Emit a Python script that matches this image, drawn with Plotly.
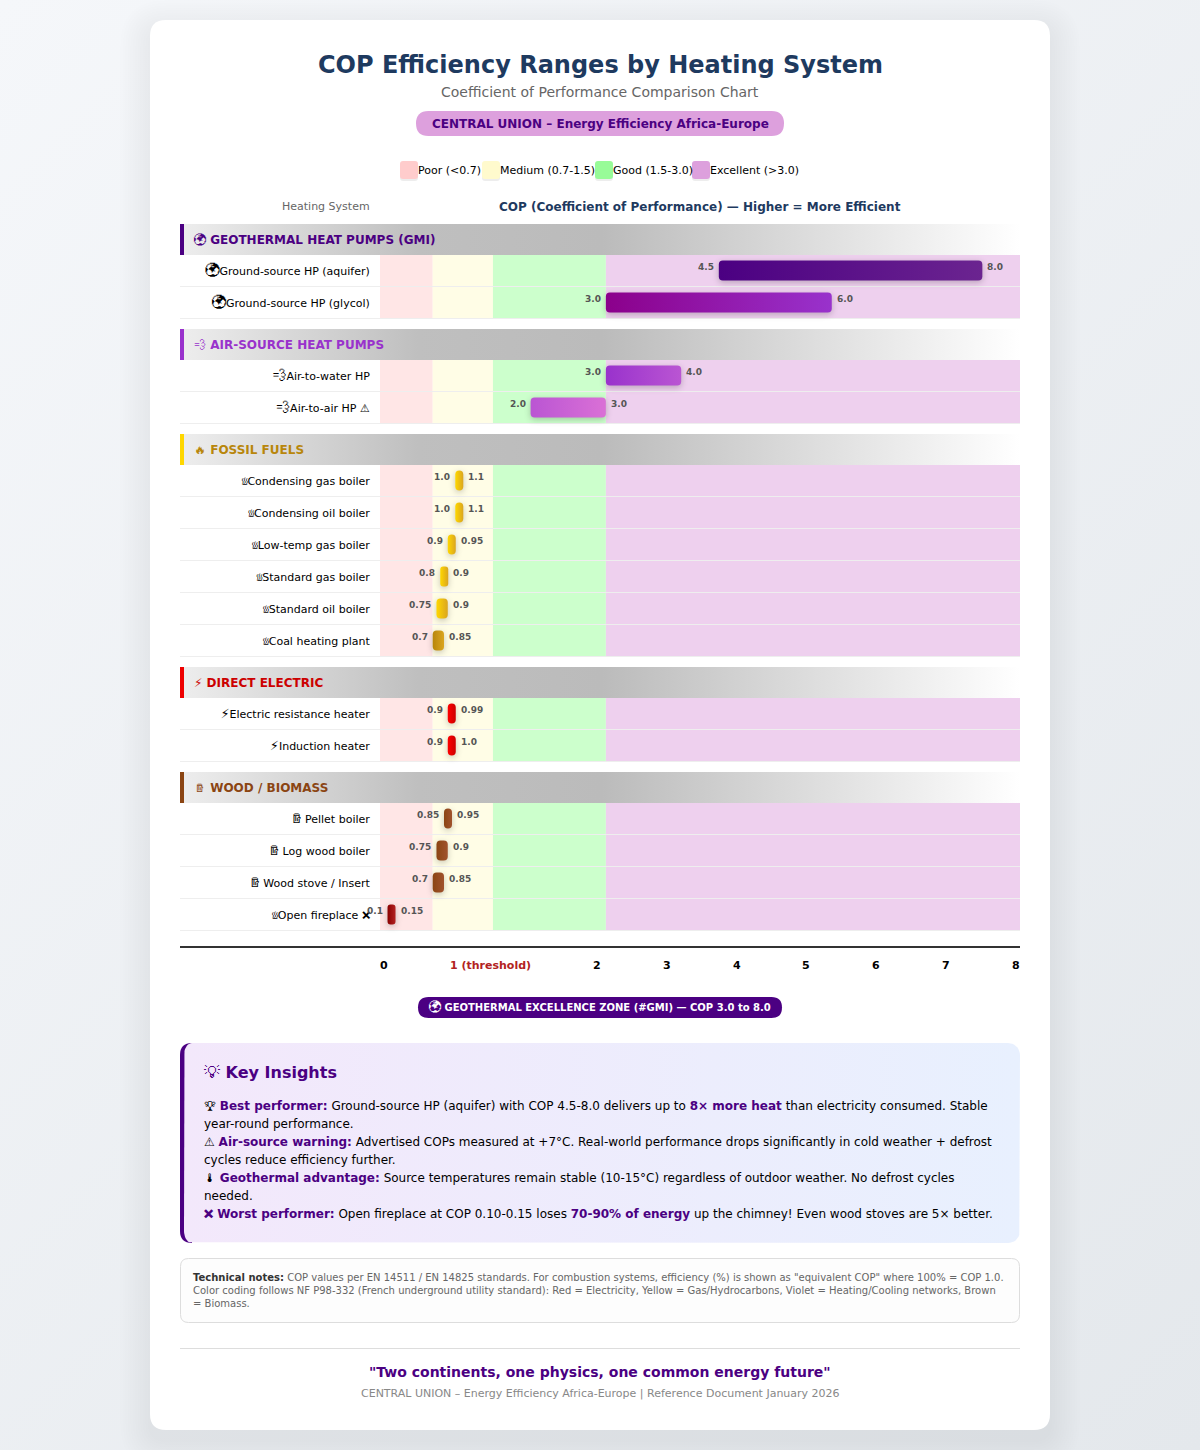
import json
import math
import plotly.graph_objects as go

# ---------- data ----------
group_names = ["🌍 GEOTHERMAL HEAT PUMPS (GMI)", "💨 AIR-SOURCE HEAT PUMPS", "🔥 FOSSIL FUELS", "⚡ DIRECT ELECTRIC", "🪵 WOOD / BIOMASS"]
group_colors = ["#4B0082", "#9932CC", "#B8860B", "#CC0000", "#8B4513"]
group_accents = ["#4B0082", "#9932CC", "#FFD700", "#EE0000", "#8B4513"]
group_bars = ["#4B0082", "#9932CC", "#FFD700", "#FF0000", "#8B4513"]

systems = [
    ["🌍Ground-source HP (aquifer)", "🌍Ground-source HP (glycol)"],
    ["💨Air-to-water HP", "💨Air-to-air HP ⚠"],
    ["♨Condensing gas boiler", "♨Condensing oil boiler", "♨Low-temp gas boiler", "♨Standard gas boiler", "♨Standard oil boiler", "♨Coal heating plant"],
    ["⚡Electric resistance heater", "⚡Induction heater"],
    ["🪵\u200APellet boiler", "🪵\u200ALog wood boiler", "🪵\u200AWood stove / Insert", "♨Open fireplace ❌"],
]
cop_low = [[4.5, 3.0], [3.0, 2.0], [1.0, 1.0, 0.9, 0.8, 0.75, 0.7], [0.9, 0.9], [0.85, 0.75, 0.7, 0.1]]
cop_high = [[8.0, 6.0], [4.0, 3.0], [1.1, 1.1, 0.95, 0.9, 0.9, 0.85], [0.99, 1.0], [0.95, 0.9, 0.85, 0.15]]
low_labels = [["4.5", "3.0"], ["3.0", "2.0"], ["1.0", "1.0", "0.9", "0.8", "0.75", "0.7"], ["0.9", "0.9"], ["0.85", "0.75", "0.7", "0.1"]]
high_labels = [["8.0", "6.0"], ["4.0", "3.0"], ["1.1", "1.1", "0.95", "0.9", "0.9", "0.85"], ["0.99", "1.0"], ["0.95", "0.9", "0.85", "0.15"]]
bar_start = [["#4B0082", "#8B008B"], ["#9932CC", "#BA55D3"], ["#FFD700", "#FFD700", "#FFD700", "#FFD700", "#FFD700", "#B8860B"], ["#FF0000", "#FF0000"], ["#8B4513", "#8B4513", "#8B4513", "#8B0000"]]
bar_end = [["#6B2490", "#9932CC"], ["#BA55D3", "#DA70D6"], ["#DAA520", "#DAA520", "#DAA520", "#DAA520", "#DAA520", "#DAA520"], ["#CC0000", "#CC0000"], ["#A0522D", "#A0522D", "#A0522D", "#B22222"]]

zone_limits = [0, 0.7, 1.5, 3.0, 8.5]
zone_colors = ["#FFE6E6", "#FFFDE6", "#CCFFCC", "#EED0EE"]
legend_labels = ["Poor (<0.7)", "Medium (0.7-1.5)", "Good (1.5-3.0)", "Excellent (>3.0)"]
legend_colors = ["#FFCCCC", "#FFFACD", "#98FB98", "#DDA0DD"]
axis_labels = ["0", "1 (threshold)", "2", "3", "4", "5", "6", "7", "8"]

insight_lines = [
    "🏆 <b style='color:#4B0082'>Best performer:</b> Ground-source HP (aquifer) with COP 4.5-8.0 delivers up to <b style='color:#4B0082'>8× more heat</b> than electricity consumed. Stable",
    "year-round performance.",
    "⚠ <b style='color:#4B0082'>Air-source warning:</b> Advertised COPs measured at +7°C. Real-world performance drops significantly in cold weather + defrost",
    "cycles reduce efficiency further.",
    "🌡 <b style='color:#4B0082'>Geothermal advantage:</b> Source temperatures remain stable (10-15°C) regardless of outdoor weather. No defrost cycles",
    "needed.",
    "<b style='color:#4B0082'>❌ Worst performer:</b> Open fireplace at COP 0.10-0.15 loses <b style='color:#4B0082'>70-90% of energy</b> up the chimney! Even wood stoves are 5× better.",
]
note_lines = [
    "<b style='color:#333'>Technical notes:</b> COP values per EN 14511 / EN 14825 standards. For combustion systems, efficiency (%) is shown as \"equivalent COP\" where 100% = COP 1.0.",
    "Color coding follows NF P98-332 (French underground utility standard): Red = Electricity, Yellow = Gas/Hydrocarbons, Violet = Heating/Cooling networks, Brown",
    "= Biomass.",
]

# ---------- layout constants ----------
W, H = 1200, 1450
PLOT_L, PLOT_R = 380, 1020
FONT = "DejaVu Sans, Unifont Upper"
ROW_ICON = {"🌍": 14, "💨": 14, "🪵": 14, "♨": 11, "⚡": 13, "⚠": 11, "❌": 11}
shapes, annotations, traces = [], [], []


def mono(s, icon=None):
    """Text (monochrome) presentation of pictographs, with their own size and regular weight."""
    icon = icon or {}
    out = ""
    for c in s:
        if c in "🌍💨🔥⚡🪵⚠❌🏆🌡💡♨":
            style = f"font-size:{icon[c]}px;" if c in icon else ""
            if c == "♨":
                style += "font-family:Unifont;"
            if c != "❌":
                style += "font-weight:normal"
            out += f"<span style='{style}'>{c}\uFE0E</span>"
        else:
            out += c
    return out


def rr(x0, y0, x1, y1, r):
    return (f"M{x0+r},{y0} L{x1-r},{y0} Q{x1},{y0} {x1},{y0+r} L{x1},{y1-r} Q{x1},{y1} {x1-r},{y1} "
            f"L{x0+r},{y1} Q{x0},{y1} {x0},{y1-r} L{x0},{y0+r} Q{x0},{y0} {x0+r},{y0} Z")


def box(x0, y0, x1, y1, r=0, fill="white", line=None, lw=0):
    shapes.append(dict(type="path", path=rr(x0, y0, x1, y1, r), xref="x", yref="y", fillcolor=fill,
                       line=dict(color=line or "rgba(0,0,0,0)", width=lw), layer="below"))


def txt(x, y, s, size, color="#000", anchor="left", bold=False, xref="x", xshift=0, icon=None):
    s = mono(s, icon)
    annotations.append(dict(x=x, y=y, xref=xref, yref="y", text=f"<b>{s}</b>" if bold else s, showarrow=False,
                            xanchor=anchor, yanchor="middle", xshift=xshift, borderpad=0, borderwidth=0,
                            align=anchor, font=dict(family=FONT, size=size, color=color)))


# card + shadow
for k in range(12):
    e = 30 - k * 2.5
    box(150 - e, 20 + 10 - e, 1050 + e, 1430 + 10 + e, 16 + e, fill="rgba(0,0,0,0.003)")
box(150, 20, 1050, 1430, 16, fill="#FFFFFF")

# heading
txt(600, 65, "COP Efficiency Ranges by Heating System", 24, "#1E3A5F", "center", True)
txt(600, 92, "Coefficient of Performance Comparison Chart", 14, "#666666", "center")
box(416, 111, 784, 136, 12.5, fill="#DDA0DD")
txt(600, 123.5, "CENTRAL UNION – Energy Efficiency Africa-Europe", 12, "#4B0082", "center", True)

# legend
for sx, tx, lab, col in zip([400, 482, 595, 692], [418, 500, 613, 710], legend_labels, legend_colors):
    box(sx, 162, sx + 18, 181, 3, fill="rgba(0,0,0,0.07)")
    box(sx, 161, sx + 18, 179, 3, fill=col)
    txt(tx, 170, lab, 11, "#000000")

txt(370, 206, "Heating System", 11, "#666666", "right")
txt(700, 207, "COP (Coefficient of Performance) — Higher = More Efficient", 12, "#1E3A5F", "center", True)

# rows: every vertical position comes from walking the groups
HEADER_H, ROW_H, GAP, BAR_H = 31, 32, 10, 20
y = 224
px_per_cop = (PLOT_R - PLOT_L) / zone_limits[-1]
MIN_W = 8 / px_per_cop
tickvals, ticktext, grads = [], [], []
for gi, name in enumerate(group_names):
    traces.append(go.Scatter(x=[184, 1020, 1020, 184, 184], y=[y, y, y + HEADER_H, y + HEADER_H, y], mode="lines",
                             line=dict(width=0), fill="toself", hoverinfo="skip", showlegend=False,
                             fillgradient=dict(type="horizontal", colorscale=[[0, "#EDEDED"], [0.28, "#BFBFBF"], [0.5, "#BBBBBB"], [1, "#FFFFFF"]]),
                             xaxis="x", yaxis="y"))
    box(180, y, 184, y + HEADER_H, 0, fill=group_accents[gi])
    txt(194, y + 15.5, name, 12, group_colors[gi], "left", True)
    y += HEADER_H
    ys, bases, widths = [], [], []
    for ri, sys_name in enumerate(systems[gi]):
        cy = y + 15.5
        lo, hi = cop_low[gi][ri], cop_high[gi][ri]
        for z in range(4):
            shapes.append(dict(type="rect", xref="x2", yref="y", x0=zone_limits[z], x1=zone_limits[z + 1],
                               y0=y, y1=y + 31, fillcolor=zone_colors[z], line=dict(width=0), layer="below"))
        box(180, y + 31, 1020, y + 32, 0, fill="#EEEEEE")
        tickvals.append(cy + 1)
        ticktext.append(mono(sys_name, ROW_ICON))
        w = max(hi - lo, MIN_W)
        ys.append(cy); bases.append(lo); widths.append(w)
        grads.append([bar_start[gi][ri], bar_end[gi][ri]])
        txt(lo, y + 12, low_labels[gi][ri], 9, "#555555", "right", True, xref="x2", xshift=-5)
        txt(lo + w, y + 12, high_labels[gi][ri], 9, "#555555", "left", True, xref="x2", xshift=5)
        y += ROW_H
    traces.append(go.Bar(x=widths, y=ys, base=bases, orientation="h", width=BAR_H, name=name,
                         marker=dict(color=group_bars[gi], cornerradius=4, line=dict(width=0)),
                         xaxis="x2", yaxis="y", showlegend=False, hoverinfo="skip"))
    y += GAP

# axis line and labels (evenly spread, not on the COP scale, as in the reference)
box(180, 946, 1020, 948, 0, fill="#333333")
for px, lab in zip([383.5, 490.5, 597, 666.5, 736.5, 806, 876, 946, 1016], axis_labels):
    txt(px, 965, lab, 11, "#B22222" if "threshold" in lab else "#000000", "center", True)

box(418, 997, 782, 1018, 10.5, fill="#4B0082")
txt(600, 1006.5, "🌍 GEOTHERMAL EXCELLENCE ZONE (#GMI) — COP 3.0 to 8.0", 10, "#FFFFFF", "center", True, icon={"🌍": 12})

# insights: left edge crescent, then the gradient panel with elliptical left corners
shapes.append(dict(type="path", path="M192,1043 Q180,1043 180,1055 L180,1231 Q180,1243 192,1243 Z", xref="x", yref="y",
                   fillcolor="#4B0082", line=dict(width=0), layer="below"))
ix0, iy0, ix1, iy1 = 184, 1043, 1020, 1243


def corner(cx, cy, rx, ry, a0):
    return [(cx + rx * math.cos(math.radians(a0 + t * 10)), cy + ry * math.sin(math.radians(a0 + t * 10))) for t in range(10)]


pts = (corner(ix1 - 12, iy0 + 12, 12, 12, 270) + corner(ix1 - 12, iy1 - 12, 12, 12, 0)
       + corner(ix0 + 8, iy1 - 12, 8, 12, 90) + corner(ix0 + 8, iy0 + 12, 8, 12, 180))
pts.append(pts[0])
traces.insert(0, go.Scatter(x=[p[0] for p in pts], y=[p[1] for p in pts], mode="lines", line=dict(width=0), fill="toself",
                            fillgradient=dict(type="horizontal", colorscale=[[0, "#F3E8FB"], [1, "#E8F0FE"]]),
                            hoverinfo="skip", showlegend=False, xaxis="x", yaxis="y"))
txt(204, 1072, "💡 Key Insights", 16, "#4B0082", "left", True)
for i, line in enumerate(insight_lines):
    txt(204, 1106 + 18 * i, line, 12, "#000000")

# notes
box(180.5, 1258.5, 1019.5, 1322.5, 8, fill="#FDFDFD", line="#DDDDDD", lw=1)
for i, line in enumerate(note_lines):
    txt(193, 1277.5 + 13 * i, line, 10, "#666666")

# footer
box(180, 1348, 1020, 1349, 0, fill="#DDDDDD")
txt(600, 1372, "\"Two continents, one physics, one common energy future\"", 14, "#4B0082", "center", True)
txt(600, 1393, "CENTRAL UNION – Energy Efficiency Africa-Europe | Reference Document January 2026", 11, "#888888", "center")

fig = go.Figure(traces)
fig.update_layout(
    width=W, height=H, margin=dict(l=0, r=0, t=0, b=0), showlegend=False, barmode="overlay",
    paper_bgcolor="rgba(0,0,0,0)", plot_bgcolor="rgba(0,0,0,0)", font=dict(family=FONT),
    shapes=shapes, annotations=annotations,
    xaxis=dict(range=[0, W], domain=[0, 1], visible=False, fixedrange=True),
    xaxis2=dict(range=[zone_limits[0], zone_limits[-1]], domain=[PLOT_L / W, PLOT_R / W], visible=False, anchor="y", fixedrange=True),
    yaxis=dict(range=[H, 0], domain=[0, 1], anchor="free", position=PLOT_L / W, tickmode="array", tickvals=tickvals, ticktext=ticktext,
               ticks="outside", ticklen=8, tickcolor="rgba(0,0,0,0)", showgrid=False, zeroline=False, showline=False,
               tickfont=dict(family=FONT, size=11, color="#000000"), fixedrange=True),
)

post = """
document.body.style.margin='0';
document.documentElement.style.background='linear-gradient(135deg,#F5F7FA 0%,#E4E8EC 100%)';
document.body.style.background='transparent';
var grads=__GRADS__;
var gd=document.getElementById('{plot_id}');
var svg=gd.querySelector('.main-svg');
var defs=document.createElementNS('http://www.w3.org/2000/svg','defs');svg.appendChild(defs);
gd.querySelectorAll('.barlayer .point path').forEach(function(p,i){
  var id='bargrad'+i,g=document.createElementNS('http://www.w3.org/2000/svg','linearGradient');
  g.setAttribute('id',id);
  [[0,grads[i][0]],[1,grads[i][1]]].forEach(function(s){var st=document.createElementNS('http://www.w3.org/2000/svg','stop');
    st.setAttribute('offset',s[0]);st.setAttribute('stop-color',s[1]);g.appendChild(st);});
  defs.appendChild(g);
  p.style.fill='url(#'+id+')';
  p.style.filter='drop-shadow(0 2px 3px rgba(0,0,0,0.22))';
});
""".replace("__GRADS__", json.dumps(grads))

fig.write_html("out.html", post_script=post, config={"displayModeBar": False})
